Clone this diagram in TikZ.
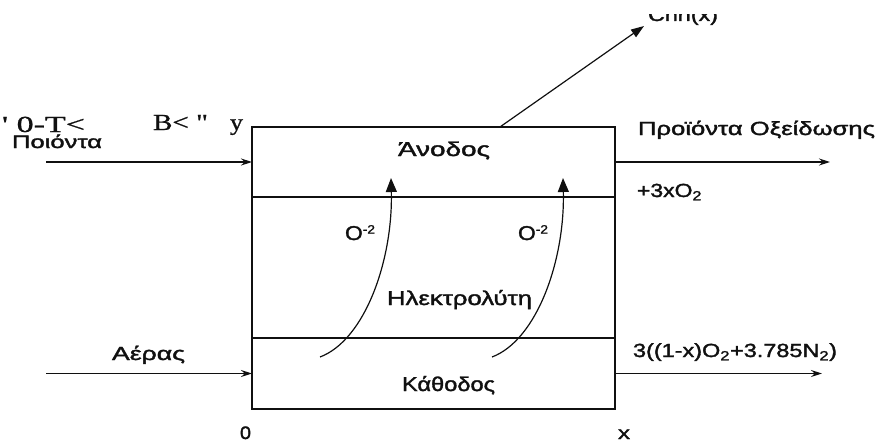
\documentclass[tikz,border=0pt]{standalone}
\usepackage{fontspec}
\setmainfont[RawFeature={embolden=1.6}]{Liberation Sans}
\newfontfamily\tmsfont[RawFeature={embolden=0.8}]{Liberation Serif}
\usetikzlibrary{arrows.meta,calc}
\definecolor{ink}{HTML}{101010}
\newcommand{\fitw}[2]{\resizebox{#1pt}{\height}{#2}}
\newcommand{\oion}{{\fontsize{20}{22}\selectfont O}\raisebox{6.5pt}{\fontsize{12}{12}\selectfont -2}}
\begin{document}
\begin{tikzpicture}[x=1pt,y=-1pt,
  layer/.style={draw=ink, line width=1.2pt, minimum width=363pt, inner sep=0pt, outer sep=0pt},
  lbl/.style={anchor=base west, inner sep=0pt, outer sep=0pt, text=ink, font=\fontsize{19}{21}\selectfont},
  boxlbl/.style={lbl, font=\fontsize{20}{22}\selectfont},
  smlbl/.style={lbl, font=\fontsize{18}{20}\selectfont},
  garb/.style={lbl, font=\tmsfont\fontsize{23}{25}\selectfont},
  flow/.style={draw=ink, line width=1.2pt, -{Stealth[length=11pt,width=7pt]}},
  ion/.style={draw=ink, line width=1.2pt, -{Triangle[length=14pt,width=11pt]}},
  diag/.style={draw=ink, line width=1.2pt, -{Triangle[length=13pt,width=9pt]}}]
\useasboundingbox (0,0) rectangle (880,444);
\clip (0,0) rectangle (880,444);

% cell layers
\node[layer, minimum height=70pt]  (anode)   at (433.5,162)   {};
\node[layer, minimum height=141pt] (electro) at (433.5,267.5) {};
\node[layer, minimum height=71pt]  (cathode) at (433.5,373.5) {};

% free ends
\coordinate (feedin)  at (46,162);
\coordinate (airin)   at (46,373.5);
\coordinate (prodout) at (830,162);
\coordinate (exhout)  at (822,373.5);
\coordinate (up)      at (644,26);
\coordinate (iona)    at (320,357);
\coordinate (ionae)   at (391,178);
\coordinate (ionb)    at (492,357);
\coordinate (ionbe)   at (563,178);

% flows
\draw[flow] (feedin) -- (anode.west);
\draw[flow] (airin) -- (cathode.west);
\draw[flow] (anode.east) -- (prodout);
\draw[flow] (cathode.east) -- (exhout);
\draw[diag] ($(anode.north west)!0.683!(anode.north east)$) -- (up);

% ion paths
\draw[ion] (iona) .. controls (365,340) and (393,260) .. (ionae);
\draw[ion] (ionb) .. controls (537,340) and (565,260) .. (ionbe);

% labels inside the cell
\node[boxlbl] (tanode)   at (398,156) {\fitw{92}{Άνοδος}};
\node[boxlbl] (telectro) at (387,305) {\fitw{145}{Ηλεκτρολύτη}};
\node[boxlbl] (tcathode) at (402,391) {\fitw{93}{Κάθοδος}};
\node[lbl]    (oa) at (345,240) {\fitw{30}{\oion}};
\node[lbl]    (ob) at (518,240) {\fitw{30}{\oion}};

% left labels
\node[garb]  (g1) at (2,132)   {\fitw{83}{' 0-T<}};
\node[garb]  (g2) at (153,130) {\fitw{55}{B< "}};
\node[garb]  (g3) at (230,130) {\fitw{13}{y}};
\node[smlbl] (tfeed) at (12,148) {\fitw{90}{Ποιόντα}};
\node[lbl]   (tair)  at (112,360) {\fitw{73}{Αέρας}};

% right labels
\node[lbl] (tprod) at (638,135) {\fitw{237}{Προϊόντα Οξείδωσης}};
\node[lbl] (to2)   at (637,197) {\fitw{65}{+3xO\textsubscript{2}}};
\node[lbl] (texh)  at (633,357) {\fitw{204}{3((1-x)O\textsubscript{2}+3.785N\textsubscript{2})}};

% axis marks
\node[smlbl] (zero) at (240,439) {\fitw{11}{0}};
\node[smlbl] (xend) at (618,439) {\fitw{12}{x}};

% top label, cut off
\begin{scope}
\clip (640,15) rectangle (730,30);
\node[lbl] (ttop) at (648,21) {\fitw{70}{Cnn(x)}};
\end{scope}
\end{tikzpicture}
\end{document}
